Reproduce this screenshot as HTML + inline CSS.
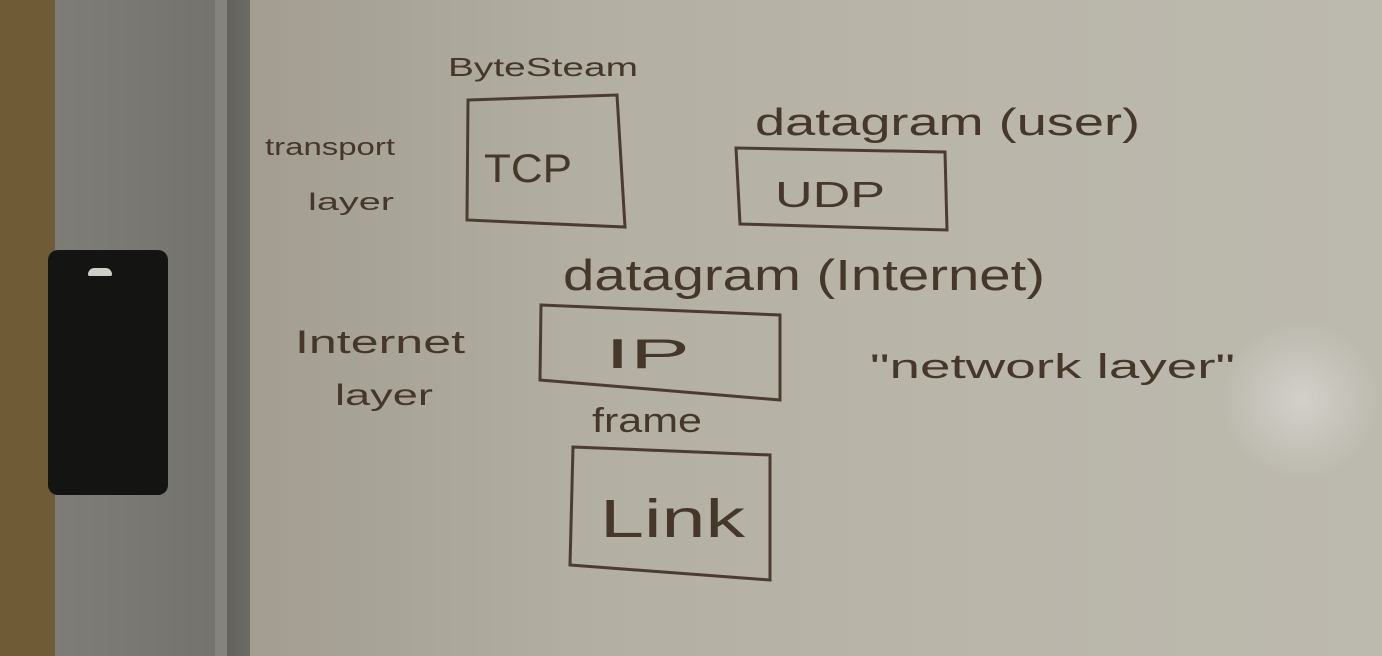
<!DOCTYPE html>
<html><head><style>
html,body{margin:0;padding:0;width:1382px;height:656px;overflow:hidden}
body{position:relative;background:linear-gradient(90deg,#a29d90 250px,#b3afa3 600px,#bab6aa 1000px,#bcb9ae 1382px)}
.abs{position:absolute}
</style></head><body>
<div class="abs" style="left:0;top:0;width:55px;height:656px;background:#6f5c36"></div>
<div class="abs" style="left:55px;top:0;width:160px;height:656px;background:linear-gradient(90deg,#7e7d77,#74736e)"></div>
<div class="abs" style="left:215px;top:0;width:12px;height:656px;background:#84837d"></div>
<div class="abs" style="left:227px;top:0;width:23px;height:656px;background:linear-gradient(90deg,#62615c,#6c6b65)"></div>
<div class="abs" style="left:48px;top:250px;width:120px;height:245px;background:#141512;border-radius:10px"></div>
<div class="abs" style="left:88px;top:268px;width:24px;height:8px;background:#cfcfc8;border-radius:8px 8px 2px 2px"></div>
<div class="abs" style="left:1220px;top:320px;width:162px;height:160px;background:radial-gradient(ellipse at center,#d2d0ca 0%,rgba(200,198,190,0) 70%)"></div>
<svg class="abs" style="left:0;top:0" width="1382" height="656">
<g fill="none" stroke="#4a3d30" stroke-width="3">
<path d="M468 100 L617 95 L625 227 L467 220 Z"/>
<path d="M736 148 L945 152 L947 230 L740 224 Z"/>
<path d="M541 305 L780 315 L780 400 L540 380 Z"/>
<path d="M573 447 L770 455 L770 580 L570 565 Z"/>
</g>
<g fill="#45382b" font-family="Liberation Sans, sans-serif" lengthAdjust="spacingAndGlyphs">
<text x="448" y="76" font-size="26" textLength="190" lengthAdjust="spacingAndGlyphs">ByteSteam</text>
<text x="265" y="155" font-size="24" textLength="130" lengthAdjust="spacingAndGlyphs">transport</text>
<text x="308" y="210" font-size="24" textLength="86" lengthAdjust="spacingAndGlyphs">layer</text>
<text x="484" y="182" font-size="40" textLength="88" lengthAdjust="spacingAndGlyphs">TCP</text>
<text x="755" y="135" font-size="38" textLength="385" lengthAdjust="spacingAndGlyphs">datagram (user)</text>
<text x="775" y="207" font-size="36" textLength="110" lengthAdjust="spacingAndGlyphs">UDP</text>
<text x="563" y="290" font-size="44" textLength="482" lengthAdjust="spacingAndGlyphs">datagram (Internet)</text>
<text x="295" y="353" font-size="32" textLength="170" lengthAdjust="spacingAndGlyphs">Internet</text>
<text x="335" y="405" font-size="30" textLength="98" lengthAdjust="spacingAndGlyphs">layer</text>
<text x="605" y="368" font-size="42" textLength="85" lengthAdjust="spacingAndGlyphs">IP</text>
<text x="870" y="378" font-size="34" textLength="365" lengthAdjust="spacingAndGlyphs">"network layer"</text>
<text x="592" y="432" font-size="34" textLength="110" lengthAdjust="spacingAndGlyphs">frame</text>
<text x="600" y="537" font-size="54" textLength="145" lengthAdjust="spacingAndGlyphs">Link</text>
</g>
</svg>
</body></html>
